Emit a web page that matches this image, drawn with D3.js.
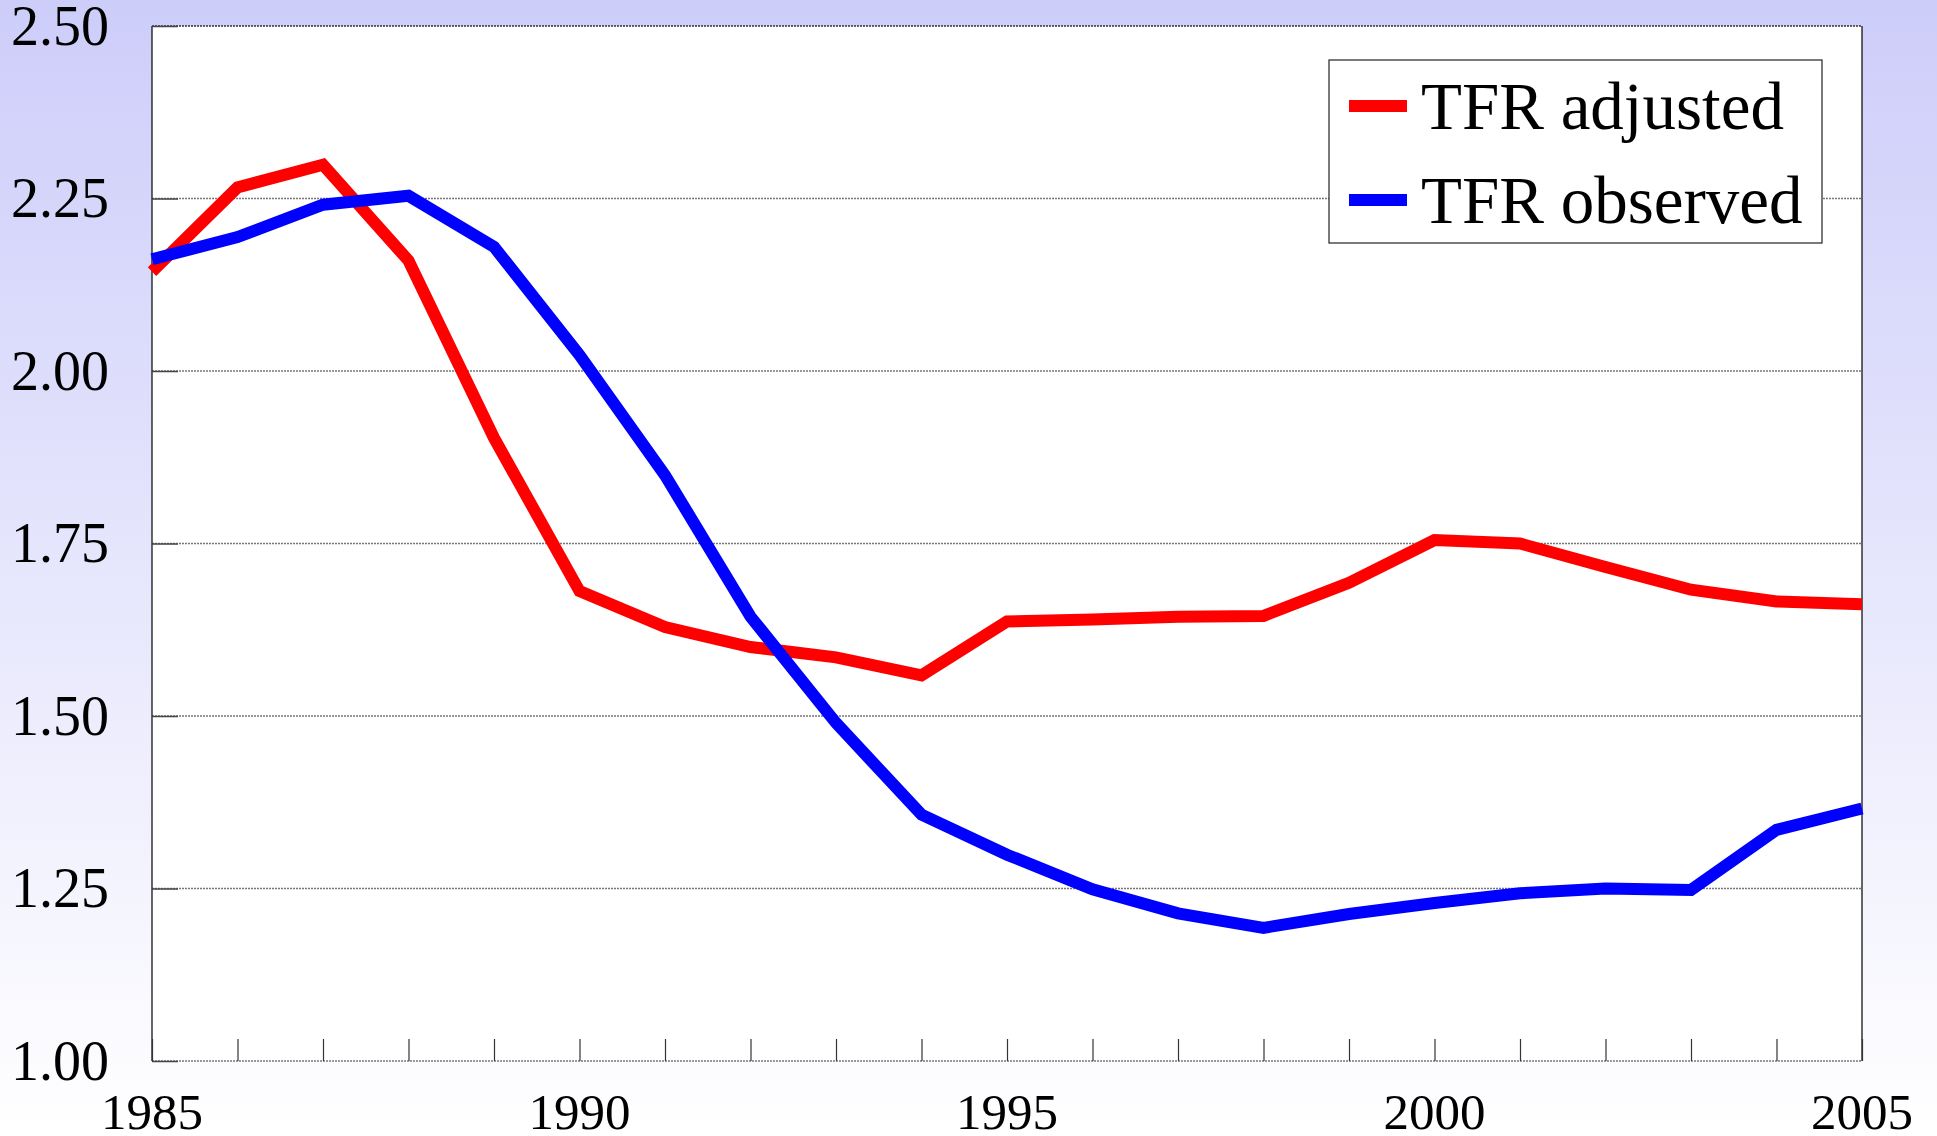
<!DOCTYPE html>
<html>
<head>
<meta charset="utf-8">
<script src="https://cdn.jsdelivr.net/npm/d3@7"></script>
<style>
  html, body { margin: 0; padding: 0; }
  body { width: 1937px; height: 1136px; overflow: hidden; }
  svg { display: block; font-family: "Liberation Serif", "Times New Roman", serif; }
</style>
</head>
<body>
<div id="chart"></div>
<script>
const VIEW_W = 1937;
const VIEW_H = 1136;
const M = { left: 152, right: 75, top: 26, bottom: 75 };

// data
const years = [1985, 1986, 1987, 1988, 1989, 1990, 1991, 1992, 1993, 1994, 1995,
  1996, 1997, 1998, 1999, 2000, 2001, 2002, 2003, 2004, 2005];
const tfrAdjusted = [2.144, 2.266, 2.299, 2.160, 1.903, 1.681, 1.629, 1.600, 1.585, 1.559, 1.637,
  1.640, 1.644, 1.645, 1.693, 1.755, 1.750, 1.716, 1.683, 1.666, 1.662];
const tfrObserved = [2.162, 2.194, 2.241, 2.254, 2.180, 2.023, 1.849, 1.644, 1.490, 1.357, 1.299,
  1.249, 1.214, 1.193, 1.213, 1.229, 1.243, 1.250, 1.248, 1.335, 1.366];
const yTicks = [1.00, 1.25, 1.50, 1.75, 2.00, 2.25, 2.50];
const xLabelYears = [1985, 1990, 1995, 2000, 2005];

const series = [
  { name: "TFR adjusted", values: tfrAdjusted, color: "#ff0000" },
  { name: "TFR observed", values: tfrObserved, color: "#0000ff" },
];

const innerW = VIEW_W - M.left - M.right;
const innerH = VIEW_H - M.top - M.bottom;

const x = d3.scaleLinear().domain([1985, 2005]).range([M.left, M.left + innerW]);
const y = d3.scaleLinear().domain([1, 2.5]).range([M.top + innerH, M.top]);

const svg = d3.select("#chart").append("svg")
  .attr("width", VIEW_W).attr("height", VIEW_H)
  .attr("viewBox", `0 0 ${VIEW_W} ${VIEW_H}`);

// page background: lavender fading to white
const grad = svg.append("defs").append("linearGradient")
  .attr("id", "bg").attr("x1", 0).attr("y1", 0).attr("x2", 0).attr("y2", 1);
grad.append("stop").attr("offset", "0%").attr("stop-color", "#cdcdfa");
grad.append("stop").attr("offset", "100%").attr("stop-color", "#ffffff");
svg.append("rect").attr("width", VIEW_W).attr("height", VIEW_H).attr("fill", "url(#bg)");

// plot area
svg.append("rect")
  .attr("x", M.left).attr("y", M.top)
  .attr("width", innerW).attr("height", innerH)
  .attr("fill", "#ffffff");

// dotted gridlines (incl. top edge and bottom axis line)
svg.append("g").attr("class", "grid")
  .selectAll("line").data(yTicks).join("line")
  .attr("x1", M.left).attr("x2", M.left + innerW)
  .attr("y1", (d) => y(d)).attr("y2", (d) => y(d))
  .attr("stroke", (d) => (d === 2.5 ? "#333" : "#777"))
  .attr("stroke-width", 1.5)
  .attr("stroke-dasharray", "2,1");

// left / right frame
svg.append("g").selectAll("line").data([M.left, M.left + innerW]).join("line")
  .attr("x1", (d) => d).attr("x2", (d) => d)
  .attr("y1", M.top).attr("y2", M.top + innerH)
  .attr("stroke", "#000").attr("stroke-width", 1.2);

// y axis: inward ticks, labels left
const yAxis = svg.append("g")
  .attr("transform", `translate(${M.left},0)`)
  .call(d3.axisLeft(y).tickValues(yTicks).tickSize(-26).tickPadding(43).tickFormat(d3.format(".2f")));
yAxis.select(".domain").remove();
yAxis.selectAll(".tick line").attr("stroke", "#444").attr("stroke-width", 1.5);
yAxis.selectAll(".tick text")
  .attr("font-size", 56).attr("fill", "#000")
  .attr("font-family", "Liberation Serif, Times New Roman, serif")
  .attr("dy", "0.33em");

// x axis: inward ticks every year, labels every 5 years
const xAxis = svg.append("g")
  .attr("transform", `translate(0,${M.top + innerH})`)
  .call(d3.axisBottom(x).tickValues(years).tickSize(-22).tickFormat(""));
xAxis.select(".domain").remove();
xAxis.selectAll(".tick line").attr("stroke", "#333").attr("stroke-width", 1.2);

svg.append("g").selectAll("text").data(xLabelYears).join("text")
  .attr("x", (d) => x(d))
  .attr("y", M.top + innerH + 68)
  .attr("text-anchor", "middle")
  .attr("font-size", 51)
  .attr("fill", "#000")
  .text((d) => d);

// lines
const line = d3.line()
  .x((d, i) => x(years[i]))
  .y((d) => y(d));

svg.append("g").selectAll("path").data(series).join("path")
  .attr("d", (d) => line(d.values))
  .attr("fill", "none")
  .attr("stroke", (d) => d.color)
  .attr("stroke-width", 12)
  .attr("stroke-linejoin", "miter");

// legend
const legend = svg.append("g").attr("transform", "translate(1329,60)");
legend.append("rect")
  .attr("width", 493).attr("height", 183)
  .attr("fill", "#fff").attr("stroke", "#222").attr("stroke-width", 1.2);
const item = legend.selectAll("g.item").data(series).join("g")
  .attr("class", "item")
  .attr("transform", (d, i) => `translate(0,${46 + i * 94})`);
item.append("line")
  .attr("x1", 20).attr("x2", 78)
  .attr("stroke", (d) => d.color).attr("stroke-width", 12);
item.append("text")
  .attr("x", 92).attr("y", 0).attr("dy", "0.34em")
  .attr("font-size", 67).attr("fill", "#000")
  .text((d) => d.name);
</script>
</body>
</html>
